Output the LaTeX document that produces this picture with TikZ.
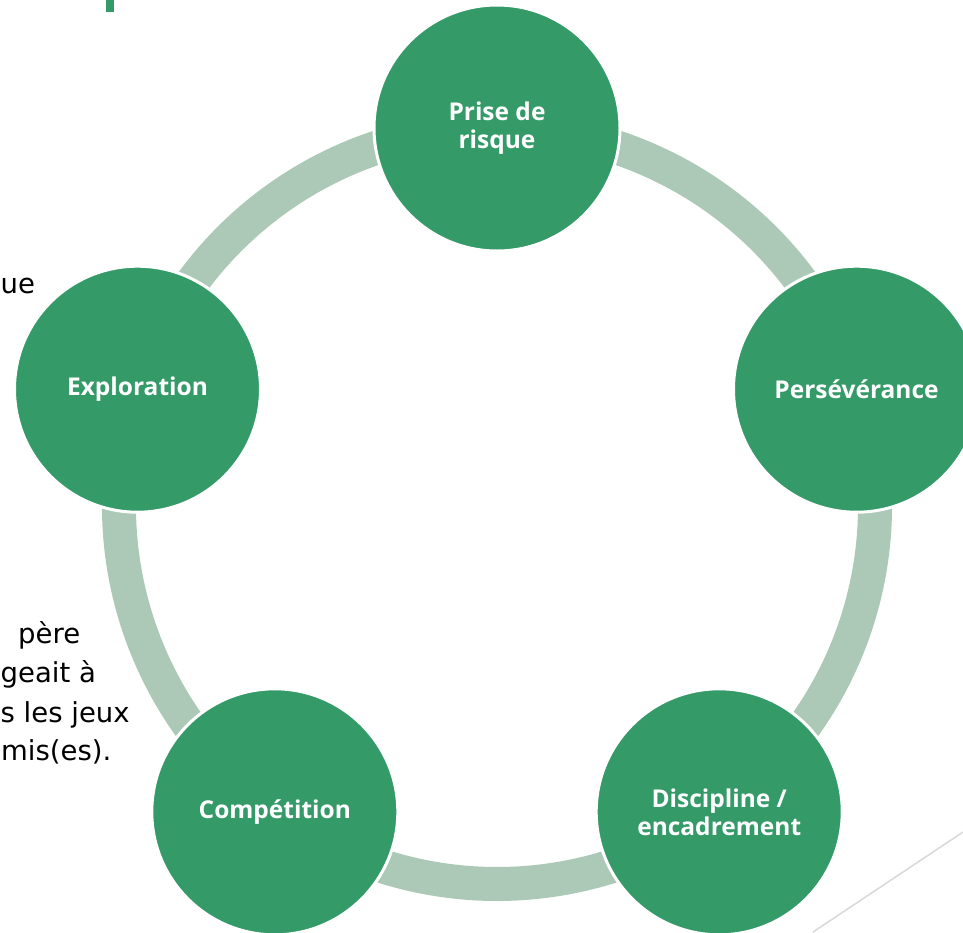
\documentclass[tikz,border=0pt]{standalone}
\usepackage{fontspec}
\setmainfont{Open Sans}
\newfontfamily\sidefont{DejaVu Sans}
\usetikzlibrary{backgrounds}
\definecolor{ringgreen}{RGB}{172,201,183}
\definecolor{stagegreen}{RGB}{52,154,104}
\definecolor{linegray}{RGB}{217,217,217}

\begin{document}
\begin{tikzpicture}[x=1pt,y=1pt]
  \tikzset{stage/.style={circle,fill=stagegreen,draw=white,line width=3pt,minimum size=246pt,inner sep=0pt,
      align=center,text=white,font=\fontsize{24.5}{28}\selectfont\bfseries},
    ring/.style={draw=ringgreen,line width=34pt},
    side/.style={anchor=base west,inner sep=0pt,font=\sidefont\fontsize{27.5}{34}\selectfont}}%
\useasboundingbox (0,-932) rectangle (963,0);
\clip (0,-932) rectangle (963,0);
\node[stage] (risque) at (497,-128) {Prise de\\risque};
\node[stage] (perseverance) at (856.5,-389.2) {Persévérance};
\node[stage] (discipline) at (719.2,-811.8) {Discipline /\\encadrement};
\node[stage] (competition) at (274.8,-811.8) {Compétition};
\node[stage] (exploration) at (137.5,-389.2) {Exploration};
\begin{scope}[on background layer]
\draw[ring] (risque.center) arc[start angle=90,end angle=18,radius=378];
\draw[ring] (perseverance.center) arc[start angle=18,end angle=-54,radius=378];
\draw[ring] (discipline.center) arc[start angle=-54,end angle=-126,radius=378];
\draw[ring] (competition.center) arc[start angle=-126,end angle=-198,radius=378];
\draw[ring] (exploration.center) arc[start angle=162,end angle=90,radius=378];
\end{scope}
% bits of the slide around the cycle
\fill[stagegreen] (106,0) rectangle (114,-12);
\node[side] (l1) at (0.5,-293) {ue};
\node[side] (l2) at (18,-643) {père};
\node[side] (l3) at (0.5,-682) {geait à};
\node[side] (l4) at (0.5,-722) {s les jeux};
\node[side] (l5) at (1,-760) {mis(es).};
\draw[linegray,line width=1.5pt] (963,-832) -- (813,-932);
\end{tikzpicture}
\end{document}
